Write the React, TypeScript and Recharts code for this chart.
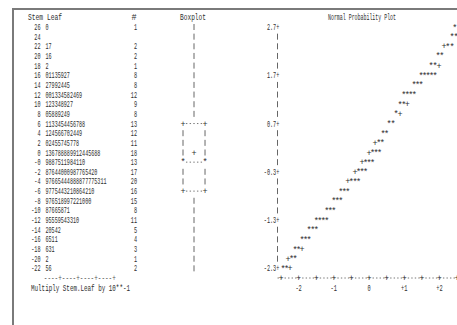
import React from 'react';
import { ScatterChart, Scatter, XAxis, YAxis, Customized } from 'recharts';

// ---- Stem-and-leaf data (stem = value*10 grouped by 0.2) ----
const stems = ['26', '24', '22', '20', '18', '16', '14', '12', '10', '8', '6', '4', '2', '0', '-0', '-2', '-4', '-6', '-8', '-10', '-12', '-14', '-16', '-18', '-20', '-22'];
const leaves = ['0', '', '17', '16', '2', '01135927', '27992445', '001334582469', '123348927', '05889249', '1133454456788', '124566702449', '02455745778', '136788889912445688', '9887511984110', '87644000987765420', '97665444888877775311', '9775443210864210', '976518997221000', '87665871', '95559543310', '20542', '6511', '631', '2', '56'];
const counts = ['1', '', '2', '2', '1', '8', '8', '12', '9', '8', '13', '12', '11', '18', '13', '17', '20', '16', '15', '8', '11', '5', '4', '3', '1', '2'];

// ---- Boxplot (row index of each statistic in the stem display) ----
const boxUpperWhiskerRow = 0;
const boxQ3Row = 10;
const boxMeanRow = 13;
const boxMedianRow = 14;
const boxQ1Row = 17;
const boxLowerWhiskerRow = 25;

// ---- Normal probability plot: observations ('*') and reference line ('+') ----
const starValues = [2.7, 2.5, 2.5, 2.3, 2.3, 2.1, 2.1, 1.9, 1.9, 1.7, 1.7, 1.7, 1.7, 1.7, 1.5, 1.5, 1.5, 1.3, 1.3, 1.3, 1.3, 1.1, 1.1, 0.9, 0.7, 0.7, 0.5, 0.5, 0.3, 0.3, 0.1, 0.1, 0.1, -0.1, -0.1, -0.1, -0.3, -0.3, -0.3, -0.5, -0.5, -0.5, -0.7, -0.7, -0.7, -0.9, -0.9, -0.9, -1.1, -1.1, -1.1, -1.3, -1.3, -1.3, -1.3, -1.5, -1.5, -1.5, -1.7, -1.7, -1.7, -1.9, -1.9, -2.1, -2.1, -2.3, -2.3];
const starQuantiles = [2.44, 2.36, 2.47, 2.24, 2.36, 1.96, 2.07, 1.76, 1.88, 1.48, 1.58, 1.68, 1.78, 1.88, 1.28, 1.38, 1.48, 0.99, 1.09, 1.19, 1.29, 0.88, 0.99, 0.77, 0.57, 0.68, 0.4, 0.5, 0.28, 0.38, 0.1, 0.2, 0.3, -0.1, 0.0, 0.1, -0.3, -0.2, -0.1, -0.5, -0.4, -0.3, -0.8, -0.7, -0.6, -1.0, -0.9, -0.8, -1.2, -1.1, -1.0, -1.5, -1.4, -1.3, -1.2, -1.7, -1.6, -1.5, -1.9, -1.8, -1.7, -2.1, -2.0, -2.2, -2.1, -2.44, -2.34];
const refValues = [2.3, 1.9, 1.1, 0.9, 0.3, 0.1, -0.1, -0.3, -0.5, -1.9, -2.1, -2.3];
const refQuantiles = [2.13, 1.99, 1.09, 0.88, 0.17, 0.0, -0.2, -0.4, -0.6, -1.9, -2.3, -2.24];

// ---- Axis ticks ----
const yTicks = [2.7, 2.5, 2.3, 2.1, 1.9, 1.7, 1.5, 1.3, 1.1, 0.9, 0.7, 0.5, 0.3, 0.1, -0.1, -0.3, -0.5, -0.7, -0.9, -1.1, -1.3, -1.5, -1.7, -1.9, -2.1, -2.3];
const yLabelTicks = [2.7, 1.7, 0.7, -0.3, -1.3, -2.3];
const yLabelTexts = ['2.7', '1.7', '0.7', '-0.3', '-1.3', '-2.3'];
const xTicks = [-2.5, -2, -1.5, -1, -0.5, 0, 0.5, 1, 1.5, 2, 2.5];
const xLabelTicks = [-2, -1, 0, 1, 2];
const xLabelTexts = ['-2', '-1', '0', '+1', '+2'];

const FONT = "'Liberation Mono', 'DejaVu Sans Mono', monospace";
const INK = '#2e2e2e';
const FS = 8.5;

const rowData = stems.map((s, i) => ({ q: 0, row: i, stem: s, leaf: leaves[i], count: counts[i] }));
const starData = starValues.map((v, i) => ({ q: starQuantiles[i], v }));
const refData = refValues.map((v, i) => ({ q: refQuantiles[i], v }));

function boxRow(r: number): string {
  if (r === boxQ3Row || r === boxQ1Row) return '+-----+';
  if (r === boxMedianRow) return '*-----*';
  if (r === boxMeanRow) return '|  +  |';
  if (r > boxQ3Row && r < boxQ1Row) return '|     |';
  if (r >= boxUpperWhiskerRow && r <= boxLowerWhiskerRow) return '   |   ';
  return '       ';
}

const txt = (x: number, y: number, s: string, extra: any = {}) => (
  <text x={x} y={y} fontFamily={FONT} fontSize={FS} fill={INK} {...extra}>{s}</text>
);

function StemRow(props: any) {
  const { cy, payload } = props;
  if (cy == null || !payload) return <g />;
  const base = cy + 3;
  const box = boxRow(payload.row).split('');
  return (
    <g>
      {txt(40.5, base, payload.stem, { textAnchor: 'end', textLength: payload.stem.length * 3.1, lengthAdjust: 'spacingAndGlyphs' })}
      {payload.leaf ? txt(45.5, base, payload.leaf, { textLength: payload.leaf.length * 3.05, lengthAdjust: 'spacingAndGlyphs' }) : null}
      {payload.count ? txt(137, base, payload.count, { textAnchor: 'end', textLength: payload.count.length * 3.1, lengthAdjust: 'spacingAndGlyphs' }) : null}
      {box.map((c, k) => {
        const x = 183 + k * 3.67;
        if (c === '|') return <line key={k} x1={x} x2={x} y1={cy - 3} y2={cy + 3} stroke="#555" strokeWidth={0.9} />;
        if (c === '-') return <line key={k} x1={x - 0.7} x2={x + 0.7} y1={cy} y2={cy} stroke="#666" strokeWidth={0.9} />;
        if (c === '+' || c === '*') return <g key={k}>{txt(x, base, c, { textAnchor: 'middle' })}</g>;
        return null;
      })}
    </g>
  );
}

function StarShape(props: any) {
  const { cx, cy } = props;
  if (cx == null || cy == null) return <g />;
  return txt(cx, cy + 3.5, '*', { textAnchor: 'middle' });
}

function PlusShape(props: any) {
  const { cx, cy } = props;
  if (cx == null || cy == null) return <g />;
  return txt(cx, cy + 3, '+', { textAnchor: 'middle' });
}

function YTick(props: any) {
  const { x, y, payload } = props;
  const v = payload.value;
  const idx = yLabelTicks.findIndex((t) => Math.abs(t - v) < 1e-6);
  if (idx >= 0) {
    return txt(x + 1.8, y + 3, yLabelTexts[idx] + '+', { textAnchor: 'end', textLength: (yLabelTexts[idx].length + 1) * 3.1, lengthAdjust: 'spacingAndGlyphs' });
  }
  return <line x1={x} x2={x} y1={y - 3} y2={y + 3} stroke="#555" strokeWidth={0.9} />;
}

function XTick(props: any) {
  const { x, y, payload } = props;
  const v = payload.value;
  const idx = xLabelTicks.findIndex((t) => Math.abs(t - v) < 1e-6);
  return (
    <g>
      {txt(x, y + 3, '+', { textAnchor: 'middle' })}
      {idx >= 0 ? txt(x, y + 13, xLabelTexts[idx], { textAnchor: 'middle', textLength: xLabelTexts[idx].length * 3.2, lengthAdjust: 'spacingAndGlyphs' }) : null}
    </g>
  );
}

function Decorations() {
  return (
    <g>
      <line x1={12} x2={457} y1={9} y2={9} stroke="#7a7a7a" strokeWidth={2} />
      <line x1={13} x2={13} y1={8} y2={325} stroke="#7a7a7a" strokeWidth={2} />
      {txt(28, 19.5, 'Stem Leaf', { textLength: 34, lengthAdjust: 'spacingAndGlyphs' })}
      {txt(134, 19.5, '#', { textAnchor: 'middle' })}
      {txt(180, 19.5, 'Boxplot', { textLength: 26, lengthAdjust: 'spacingAndGlyphs' })}
      {txt(328, 19.5, 'Normal Probability Plot', { textLength: 68, lengthAdjust: 'spacingAndGlyphs' })}
      {txt(43.8, 281, '----+----+----+----+', { textLength: 72, lengthAdjust: 'spacingAndGlyphs', fill: '#555' })}
      {txt(31, 291, 'Multiply Stem.Leaf by 10**-1', { textLength: 99, lengthAdjust: 'spacingAndGlyphs' })}
    </g>
  );
}

export default function App() {
  return (
    <div style={{ position: 'absolute', left: 0, top: 0, width: 457, height: 325, background: '#fff' }}>
      <ScatterChart width={457} height={325} margin={{ top: 27, right: 0, bottom: 0, left: 0 }}>
        <XAxis
          type="number"
          dataKey="q"
          domain={[-2.6, 2.5]}
          ticks={xTicks}
          interval={0}
          tickSize={0}
          tickMargin={0}
          tickLine={false}
          height={47}
          axisLine={{ stroke: '#777', strokeDasharray: '1.4 2.12', strokeWidth: 1 }}
          tick={<XTick />}
        />
        <YAxis
          yAxisId="val"
          type="number"
          dataKey="v"
          domain={[-2.5, 2.7]}
          ticks={yTicks}
          interval={0}
          tickSize={0}
          tickMargin={0}
          tickLine={false}
          axisLine={false}
          width={277.5}
          tick={<YTick />}
        />
        <YAxis yAxisId="rows" orientation="right" width={0} type="number" dataKey="row" domain={[0, 26]} reversed hide />
        <Customized component={<Decorations />} />
        <Scatter yAxisId="rows" data={rowData} shape={<StemRow />} isAnimationActive={false} />
        <Scatter yAxisId="val" data={refData} shape={<PlusShape />} isAnimationActive={false} />
        <Scatter yAxisId="val" data={starData} shape={<StarShape />} isAnimationActive={false} />
      </ScatterChart>
    </div>
  );
}
